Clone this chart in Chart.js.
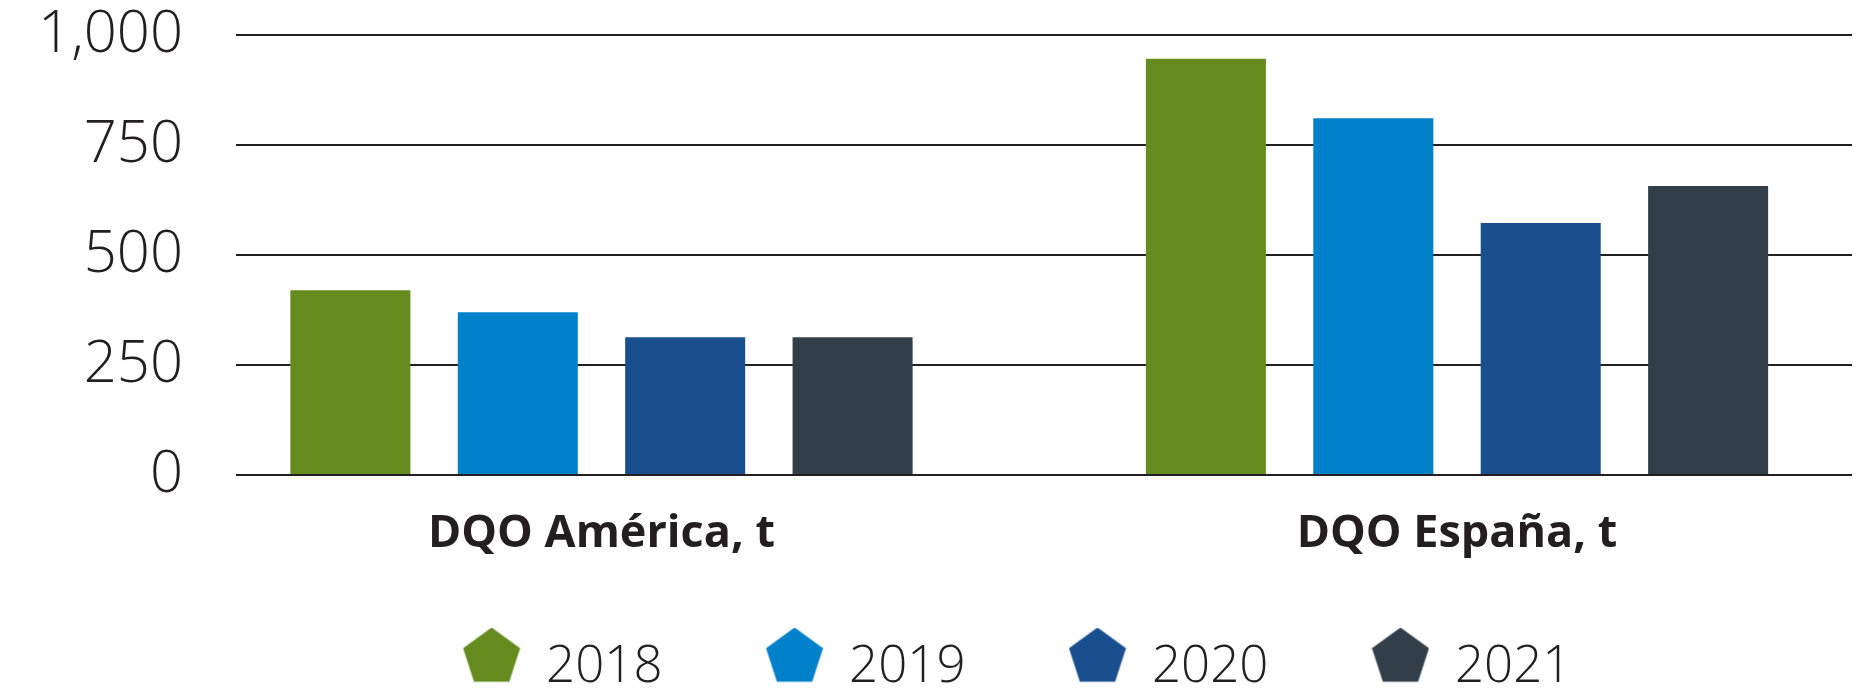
<!DOCTYPE html>
<html>
<head>
<meta charset="utf-8">
<script src="https://cdn.jsdelivr.net/npm/chart.js@4"></script>
<style>
  html, body { margin: 0; padding: 0; background: #fff; }
  #wrap { width: 1875px; height: 695px; position: relative; }
</style>
</head>
<body>
<div id="wrap"><canvas id="chart"></canvas></div>
<script>
/* data */
const categories = ['DQO América, t', 'DQO España, t'];
const years = ['2018', '2019', '2020', '2021'];
const v2018 = [420, 946];
const v2019 = [370, 811];
const v2020 = [313, 573];
const v2021 = [313, 657];
const yTicks = [0, 250, 500, 750, 1000];

const colors = ['#658B1E', '#0081CA', '#1A4F8F', '#333F48'];
const ink = '#231F20';
const font = "'Open Sans', sans-serif";

/* pentagon marker for legend (sits a bit above the text middle) */
const pentagon = color => {
  const c = document.createElement('canvas');
  c.width = 58; c.height = 80;
  const ctx = c.getContext('2d');
  const r = 30, cx = 29, cy = r;
  ctx.beginPath();
  for (let i = 0; i < 5; i++){
    const a = -Math.PI/2 + i * 2*Math.PI/5;
    const x = cx + r*Math.cos(a), y = cy + r*Math.sin(a);
    i ? ctx.lineTo(x, y) : ctx.moveTo(x, y);
  }
  ctx.closePath();
  ctx.fillStyle = color;
  ctx.fill();
  return c;
};

/* nudge the legend row */
const legendShift = {
  id: 'legendShift',
  afterLayout(chart){
    const lg = chart.legend;
    if (!lg) return;
    lg.left += 91; lg.right += 91;
    lg.top -= 26; lg.bottom -= 26;
  }
};

const series = [v2018, v2019, v2020, v2021];
const datasets = series.map((vals, i) => ({
  label: years[i],
  data: vals.map((v, k) => ({x: k, y: v})),
  backgroundColor: colors[i],
  borderWidth: 0,
  pointStyle: pentagon(colors[i]),
  barPercentage: 0.717,
  categoryPercentage: 0.7827
}));

new Chart(document.getElementById('chart'), {
  type: 'bar',
  data: { datasets },
  plugins: [legendShift],
  options: {
    responsive: true,
    maintainAspectRatio: false,
    animation: false,
    layout: { padding: { top: 35, left: 0, right: 23, bottom: -34 } },
    plugins: {
      tooltip: { enabled: false },
      legend: {
        position: 'bottom',
        labels: {
          usePointStyle: true,
          pointStyleWidth: 58,
          padding: 103,
          color: ink,
          font: { family: font, size: 51, weight: 300 }
        }
      }
    },
    scales: {
      x: {
        type: 'linear',
        offset: false,
        min: -0.4272,
        max: 1.4617,
        afterBuildTicks: axis => { axis.ticks = categories.map((c, i) => ({value: i})); },
        afterFit: axis => { axis.height = 90; },
        grid: { display: false, offset: false },
        border: { display: false },
        ticks: {
          padding: 24,
          color: ink,
          font: { family: font, size: 45, weight: 700 },
          callback: v => categories[v] ?? ''
        }
      },
      y: {
        min: 0,
        max: 1000,
        afterBuildTicks: axis => { axis.ticks = yTicks.map(v => ({value: v})); },
        afterFit: axis => { axis.width = 236; axis.paddingTop = 0; axis.paddingBottom = 0; },
        grid: { color: ink, lineWidth: 2, drawTicks: false },
        border: { display: false },
        ticks: {
          padding: 53,
          color: ink,
          font: { family: font, size: 58, weight: 300 }
        }
      }
    }
  }
});
</script>
</body>
</html>
